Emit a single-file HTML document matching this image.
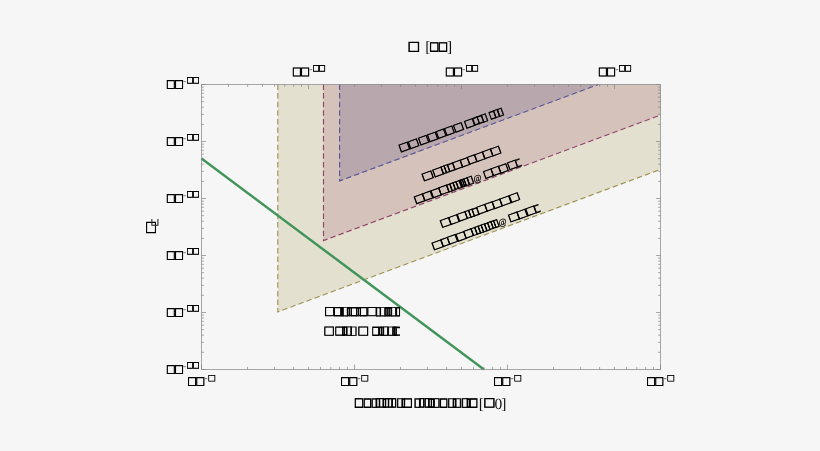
<!DOCTYPE html>
<html lang="en"><head><meta charset="utf-8"><title>Plot</title>
<style>
html,body{margin:0;padding:0;background:#f6f6f6;}
body{width:820px;height:451px;overflow:hidden;font-family:"Liberation Sans",sans-serif;}
svg{display:block;will-change:transform;}
</style></head><body>
<svg width="820" height="451" viewBox="0 0 820 451" text-rendering="geometricPrecision">
<rect width="820" height="451" fill="#f6f6f6"/>
<polygon points="277.8,84.5 660.5,84.5 660.5,169.33 277.8,311.9" fill="#e3e0d0"/>
<polygon points="323.5,84.5 660.5,84.5 660.5,115.05 323.5,240.6" fill="#d4c2bb"/>
<polygon points="339.6,84.5 598.36,84.5 339.6,180.9" fill="#b8a8ad"/>
<g fill="none" stroke-width="1.15" stroke-dasharray="5.5 3.1">
<polyline points="277.8,84.5 277.8,311.9 660.5,169.33" stroke="#9e9252"/>
<polyline points="323.5,84.5 323.5,240.6 660.5,115.05" stroke="#8f456b"/>
<polyline points="339.6,84.5 339.6,180.9 598.36,84.5" stroke="#58559a"/>
</g>
<line x1="201.5" y1="158.5" x2="484" y2="369.5" stroke="#41955a" stroke-width="2.45"/>
<path d="M201.5,84.5H660.5V369.5H201.5ZM201.50,369.5v-5M247.56,369.5v-2.6M274.50,369.5v-2.6M293.62,369.5v-2.6M308.44,369.5v-2.6M320.56,369.5v-2.6M330.80,369.5v-2.6M339.67,369.5v-2.6M347.50,369.5v-2.6M354.50,369.5v-5M400.56,369.5v-2.6M427.50,369.5v-2.6M446.62,369.5v-2.6M461.44,369.5v-2.6M473.56,369.5v-2.6M483.80,369.5v-2.6M492.67,369.5v-2.6M500.50,369.5v-2.6M507.50,369.5v-5M553.56,369.5v-2.6M580.50,369.5v-2.6M599.62,369.5v-2.6M614.44,369.5v-2.6M626.56,369.5v-2.6M636.80,369.5v-2.6M645.67,369.5v-2.6M653.50,369.5v-2.6M660.50,369.5v-5M201.56,84.5v2.4M228.50,84.5v2.4M247.62,84.5v2.4M262.44,84.5v2.4M274.56,84.5v2.4M284.80,84.5v2.4M293.67,84.5v2.4M301.50,84.5v2.4M308.50,84.5v4.5M354.56,84.5v2.4M381.50,84.5v2.4M400.62,84.5v2.4M415.44,84.5v2.4M427.56,84.5v2.4M437.80,84.5v2.4M446.67,84.5v2.4M454.50,84.5v2.4M461.50,84.5v4.5M507.56,84.5v2.4M534.50,84.5v2.4M553.62,84.5v2.4M568.44,84.5v2.4M580.56,84.5v2.4M590.80,84.5v2.4M599.67,84.5v2.4M607.50,84.5v2.4M614.50,84.5v4.5M201.5,84.50h4.5M660.5,84.50h-4.5M201.5,141.50h4.5M660.5,141.50h-4.5M201.5,124.34h2.4M660.5,124.34h-2.4M201.5,114.30h2.4M660.5,114.30h-2.4M201.5,107.18h2.4M660.5,107.18h-2.4M201.5,101.66h2.4M660.5,101.66h-2.4M201.5,97.15h2.4M660.5,97.15h-2.4M201.5,93.33h2.4M660.5,93.33h-2.4M201.5,90.02h2.4M660.5,90.02h-2.4M201.5,87.11h2.4M660.5,87.11h-2.4M201.5,198.50h4.5M660.5,198.50h-4.5M201.5,181.34h2.4M660.5,181.34h-2.4M201.5,171.30h2.4M660.5,171.30h-2.4M201.5,164.18h2.4M660.5,164.18h-2.4M201.5,158.66h2.4M660.5,158.66h-2.4M201.5,154.15h2.4M660.5,154.15h-2.4M201.5,150.33h2.4M660.5,150.33h-2.4M201.5,147.02h2.4M660.5,147.02h-2.4M201.5,144.11h2.4M660.5,144.11h-2.4M201.5,255.50h4.5M660.5,255.50h-4.5M201.5,238.34h2.4M660.5,238.34h-2.4M201.5,228.30h2.4M660.5,228.30h-2.4M201.5,221.18h2.4M660.5,221.18h-2.4M201.5,215.66h2.4M660.5,215.66h-2.4M201.5,211.15h2.4M660.5,211.15h-2.4M201.5,207.33h2.4M660.5,207.33h-2.4M201.5,204.02h2.4M660.5,204.02h-2.4M201.5,201.11h2.4M660.5,201.11h-2.4M201.5,312.50h4.5M660.5,312.50h-4.5M201.5,295.34h2.4M660.5,295.34h-2.4M201.5,285.30h2.4M660.5,285.30h-2.4M201.5,278.18h2.4M660.5,278.18h-2.4M201.5,272.66h2.4M660.5,272.66h-2.4M201.5,268.15h2.4M660.5,268.15h-2.4M201.5,264.33h2.4M660.5,264.33h-2.4M201.5,261.02h2.4M660.5,261.02h-2.4M201.5,258.11h2.4M660.5,258.11h-2.4M201.5,369.50h4.5M660.5,369.50h-4.5M201.5,352.34h2.4M660.5,352.34h-2.4M201.5,342.30h2.4M660.5,342.30h-2.4M201.5,335.18h2.4M660.5,335.18h-2.4M201.5,329.66h2.4M660.5,329.66h-2.4M201.5,325.15h2.4M660.5,325.15h-2.4M201.5,321.33h2.4M660.5,321.33h-2.4M201.5,318.02h2.4M660.5,318.02h-2.4M201.5,315.11h2.4M660.5,315.11h-2.4" fill="none" stroke="#848484" stroke-width="0.7"/>
<g font-size="20.48">
<text font-family="'Liberation Sans', sans-serif" transform="matrix(0.6099 0.0005 -0.0005 0.6776 167.08 88.65)" stroke-width="1.031" stroke="#000" fill="#000">□</text><text font-family="'Liberation Sans', sans-serif" transform="matrix(0.6099 0.0005 -0.0005 0.6776 175.18 88.65)" stroke-width="1.031" stroke="#000" fill="#000">□</text>
<text x="183.0" y="83.60" font-family="'Liberation Serif', serif" font-size="9.5" fill="#444">-</text>
<text font-family="'Liberation Sans', sans-serif" transform="matrix(0.4444 0.0005 -0.0005 0.5079 187.33 83.61)" stroke-width="1.139" stroke="#000" fill="#000">□</text><text font-family="'Liberation Sans', sans-serif" transform="matrix(0.4444 0.0005 -0.0005 0.5079 193.28 83.61)" stroke-width="1.139" stroke="#000" fill="#000">□</text>
<text font-family="'Liberation Sans', sans-serif" transform="matrix(0.6099 0.0005 -0.0005 0.6776 167.08 145.65)" stroke-width="1.031" stroke="#000" fill="#000">□</text><text font-family="'Liberation Sans', sans-serif" transform="matrix(0.6099 0.0005 -0.0005 0.6776 175.18 145.65)" stroke-width="1.031" stroke="#000" fill="#000">□</text>
<text x="183.0" y="140.60" font-family="'Liberation Serif', serif" font-size="9.5" fill="#444">-</text>
<text font-family="'Liberation Sans', sans-serif" transform="matrix(0.4444 0.0005 -0.0005 0.5079 187.33 140.61)" stroke-width="1.139" stroke="#000" fill="#000">□</text><text font-family="'Liberation Sans', sans-serif" transform="matrix(0.4444 0.0005 -0.0005 0.5079 193.28 140.61)" stroke-width="1.139" stroke="#000" fill="#000">□</text>
<text font-family="'Liberation Sans', sans-serif" transform="matrix(0.6099 0.0005 -0.0005 0.6776 167.08 202.65)" stroke-width="1.031" stroke="#000" fill="#000">□</text><text font-family="'Liberation Sans', sans-serif" transform="matrix(0.6099 0.0005 -0.0005 0.6776 175.18 202.65)" stroke-width="1.031" stroke="#000" fill="#000">□</text>
<text x="183.0" y="197.60" font-family="'Liberation Serif', serif" font-size="9.5" fill="#444">-</text>
<text font-family="'Liberation Sans', sans-serif" transform="matrix(0.4444 0.0005 -0.0005 0.5079 187.33 197.61)" stroke-width="1.139" stroke="#000" fill="#000">□</text><text font-family="'Liberation Sans', sans-serif" transform="matrix(0.4444 0.0005 -0.0005 0.5079 193.28 197.61)" stroke-width="1.139" stroke="#000" fill="#000">□</text>
<text font-family="'Liberation Sans', sans-serif" transform="matrix(0.6099 0.0005 -0.0005 0.6776 167.08 259.65)" stroke-width="1.031" stroke="#000" fill="#000">□</text><text font-family="'Liberation Sans', sans-serif" transform="matrix(0.6099 0.0005 -0.0005 0.6776 175.18 259.65)" stroke-width="1.031" stroke="#000" fill="#000">□</text>
<text x="183.0" y="254.60" font-family="'Liberation Serif', serif" font-size="9.5" fill="#444">-</text>
<text font-family="'Liberation Sans', sans-serif" transform="matrix(0.4444 0.0005 -0.0005 0.5079 187.33 254.61)" stroke-width="1.139" stroke="#000" fill="#000">□</text><text font-family="'Liberation Sans', sans-serif" transform="matrix(0.4444 0.0005 -0.0005 0.5079 193.28 254.61)" stroke-width="1.139" stroke="#000" fill="#000">□</text>
<text font-family="'Liberation Sans', sans-serif" transform="matrix(0.6099 0.0005 -0.0005 0.6776 167.08 316.65)" stroke-width="1.031" stroke="#000" fill="#000">□</text><text font-family="'Liberation Sans', sans-serif" transform="matrix(0.6099 0.0005 -0.0005 0.6776 175.18 316.65)" stroke-width="1.031" stroke="#000" fill="#000">□</text>
<text x="183.0" y="311.60" font-family="'Liberation Serif', serif" font-size="9.5" fill="#444">-</text>
<text font-family="'Liberation Sans', sans-serif" transform="matrix(0.4444 0.0005 -0.0005 0.5079 187.33 311.61)" stroke-width="1.139" stroke="#000" fill="#000">□</text><text font-family="'Liberation Sans', sans-serif" transform="matrix(0.4444 0.0005 -0.0005 0.5079 193.28 311.61)" stroke-width="1.139" stroke="#000" fill="#000">□</text>
<text font-family="'Liberation Sans', sans-serif" transform="matrix(0.6099 0.0005 -0.0005 0.6776 167.08 373.65)" stroke-width="1.031" stroke="#000" fill="#000">□</text><text font-family="'Liberation Sans', sans-serif" transform="matrix(0.6099 0.0005 -0.0005 0.6776 175.18 373.65)" stroke-width="1.031" stroke="#000" fill="#000">□</text>
<text x="183.0" y="368.60" font-family="'Liberation Serif', serif" font-size="9.5" fill="#444">-</text>
<text font-family="'Liberation Sans', sans-serif" transform="matrix(0.4444 0.0005 -0.0005 0.5079 187.33 368.61)" stroke-width="1.139" stroke="#000" fill="#000">□</text><text font-family="'Liberation Sans', sans-serif" transform="matrix(0.4444 0.0005 -0.0005 0.5079 193.28 368.61)" stroke-width="1.139" stroke="#000" fill="#000">□</text>
<text font-family="'Liberation Sans', sans-serif" transform="matrix(0.6190 0.0005 -0.0005 0.6945 293.07 76.35)" stroke-width="0.997" stroke="#000" fill="#000">□</text><text font-family="'Liberation Sans', sans-serif" transform="matrix(0.6190 0.0005 -0.0005 0.6945 301.27 76.35)" stroke-width="0.997" stroke="#000" fill="#000">□</text>
<text x="309.30" y="71.7" font-family="'Liberation Serif', serif" font-size="9.5" fill="#444">-</text>
<text font-family="'Liberation Sans', sans-serif" transform="matrix(0.4566 0.0005 -0.0005 0.5090 313.23 71.52)" stroke-width="1.110" stroke="#000" fill="#000">□</text><text font-family="'Liberation Sans', sans-serif" transform="matrix(0.4566 0.0005 -0.0005 0.5090 319.33 71.52)" stroke-width="1.110" stroke="#000" fill="#000">□</text>
<text font-family="'Liberation Sans', sans-serif" transform="matrix(0.6190 0.0005 -0.0005 0.6945 446.07 76.35)" stroke-width="0.997" stroke="#000" fill="#000">□</text><text font-family="'Liberation Sans', sans-serif" transform="matrix(0.6190 0.0005 -0.0005 0.6945 454.27 76.35)" stroke-width="0.997" stroke="#000" fill="#000">□</text>
<text x="462.30" y="71.7" font-family="'Liberation Serif', serif" font-size="9.5" fill="#444">-</text>
<text font-family="'Liberation Sans', sans-serif" transform="matrix(0.4566 0.0005 -0.0005 0.5090 466.23 71.52)" stroke-width="1.110" stroke="#000" fill="#000">□</text><text font-family="'Liberation Sans', sans-serif" transform="matrix(0.4566 0.0005 -0.0005 0.5090 472.33 71.52)" stroke-width="1.110" stroke="#000" fill="#000">□</text>
<text font-family="'Liberation Sans', sans-serif" transform="matrix(0.6190 0.0005 -0.0005 0.6945 599.07 76.35)" stroke-width="0.997" stroke="#000" fill="#000">□</text><text font-family="'Liberation Sans', sans-serif" transform="matrix(0.6190 0.0005 -0.0005 0.6945 607.27 76.35)" stroke-width="0.997" stroke="#000" fill="#000">□</text>
<text x="615.30" y="71.7" font-family="'Liberation Serif', serif" font-size="9.5" fill="#444">-</text>
<text font-family="'Liberation Sans', sans-serif" transform="matrix(0.4566 0.0005 -0.0005 0.5090 619.23 71.52)" stroke-width="1.110" stroke="#000" fill="#000">□</text><text font-family="'Liberation Sans', sans-serif" transform="matrix(0.4566 0.0005 -0.0005 0.5090 625.33 71.52)" stroke-width="1.110" stroke="#000" fill="#000">□</text>
<text font-family="'Liberation Sans', sans-serif" transform="matrix(0.6185 0.0005 -0.0005 0.6864 188.27 385.85)" stroke-width="1.007" stroke="#000" fill="#000">□</text><text font-family="'Liberation Sans', sans-serif" transform="matrix(0.6185 0.0005 -0.0005 0.6864 196.47 385.85)" stroke-width="1.007" stroke="#000" fill="#000">□</text>
<text x="204.50" y="380.8" font-family="'Liberation Serif', serif" font-size="9.5" fill="#333">-</text>
<text font-family="'Liberation Sans', sans-serif" transform="matrix(0.5332 0.0005 -0.0005 0.5023 208.45 381.23)" stroke-width="0.690" stroke="#000" fill="#000">□</text>
<text font-family="'Liberation Sans', sans-serif" transform="matrix(0.6185 0.0005 -0.0005 0.6864 341.27 385.85)" stroke-width="1.007" stroke="#000" fill="#000">□</text><text font-family="'Liberation Sans', sans-serif" transform="matrix(0.6185 0.0005 -0.0005 0.6864 349.47 385.85)" stroke-width="1.007" stroke="#000" fill="#000">□</text>
<text x="357.50" y="380.8" font-family="'Liberation Serif', serif" font-size="9.5" fill="#333">-</text>
<text font-family="'Liberation Sans', sans-serif" transform="matrix(0.5332 0.0005 -0.0005 0.5023 361.45 381.23)" stroke-width="0.690" stroke="#000" fill="#000">□</text>
<text font-family="'Liberation Sans', sans-serif" transform="matrix(0.6185 0.0005 -0.0005 0.6864 494.27 385.85)" stroke-width="1.007" stroke="#000" fill="#000">□</text><text font-family="'Liberation Sans', sans-serif" transform="matrix(0.6185 0.0005 -0.0005 0.6864 502.47 385.85)" stroke-width="1.007" stroke="#000" fill="#000">□</text>
<text x="510.50" y="380.8" font-family="'Liberation Serif', serif" font-size="9.5" fill="#333">-</text>
<text font-family="'Liberation Sans', sans-serif" transform="matrix(0.5332 0.0005 -0.0005 0.5023 514.45 381.23)" stroke-width="0.690" stroke="#000" fill="#000">□</text>
<text font-family="'Liberation Sans', sans-serif" transform="matrix(0.6185 0.0005 -0.0005 0.6864 647.27 385.85)" stroke-width="1.007" stroke="#000" fill="#000">□</text><text font-family="'Liberation Sans', sans-serif" transform="matrix(0.6185 0.0005 -0.0005 0.6864 655.47 385.85)" stroke-width="1.007" stroke="#000" fill="#000">□</text>
<text x="663.50" y="380.8" font-family="'Liberation Serif', serif" font-size="9.5" fill="#333">-</text>
<text font-family="'Liberation Sans', sans-serif" transform="matrix(0.5332 0.0005 -0.0005 0.5023 667.45 381.23)" stroke-width="0.690" stroke="#000" fill="#000">□</text>
<text font-family="'Liberation Sans', sans-serif" transform="matrix(0.8159 0.0005 -0.0005 0.7854 408.70 51.66)" stroke-width="0.864" stroke="#000" fill="#000">□</text>
<text font-family="'Liberation Sans', sans-serif" transform="matrix(0.6423 0.0005 -0.0005 0.7319 430.33 51.38)" stroke-width="1.140" stroke="#000" fill="#000">□</text><text font-family="'Liberation Sans', sans-serif" transform="matrix(0.6423 0.0005 -0.0005 0.7319 438.93 51.38)" stroke-width="1.140" stroke="#000" fill="#000">□</text>
<text font-family="'Liberation Sans', sans-serif" transform="matrix(0.7727 0.0005 -0.0005 0.8886 146.22 232.99)" stroke-width="0.692" stroke="#000" fill="#000">□</text>
<text font-family="'Liberation Sans', sans-serif" transform="matrix(0.6504 0.0005 -0.0005 0.7326 355.03 407.49)" stroke-width="1.127" stroke="#000" fill="#000">□</text><text font-family="'Liberation Sans', sans-serif" transform="matrix(0.5529 0.0005 -0.0005 0.7224 364.03 407.42)" stroke-width="1.315" stroke="#000" fill="#000">□</text><text font-family="'DejaVu Sans', sans-serif" transform="matrix(0.6909 0.0005 -0.0005 0.5945 370.41 406.16)" stroke-width="0.845" stroke="#000" fill="#000">▯</text><text font-family="'DejaVu Sans', sans-serif" transform="matrix(0.4936 0.0005 -0.0005 0.5764 375.12 406.07)" stroke-width="1.364" stroke="#000" fill="#000">▯</text><text font-family="'DejaVu Sans', sans-serif" transform="matrix(0.5640 0.0005 -0.0005 0.5841 378.17 406.11)" stroke-width="1.138" stroke="#000" fill="#000">▯</text><text font-family="'DejaVu Sans', sans-serif" transform="matrix(0.3534 0.0005 -0.0005 0.5533 382.41 405.94)" stroke-width="2.071" stroke="#000" fill="#000">▯</text><text font-family="'DejaVu Sans', sans-serif" transform="matrix(0.4796 0.0005 -0.0005 0.5746 384.15 406.06)" stroke-width="1.416" stroke="#000" fill="#000">▯</text><text font-family="'DejaVu Sans', sans-serif" transform="matrix(0.5358 0.0005 -0.0005 0.5812 387.23 406.09)" stroke-width="1.221" stroke="#000" fill="#000">▯</text><text font-family="'DejaVu Sans', sans-serif" transform="matrix(0.5218 0.0005 -0.0005 0.5797 390.96 406.08)" stroke-width="1.266" stroke="#000" fill="#000">▯</text><text font-family="'DejaVu Sans', sans-serif" transform="matrix(0.7615 0.0005 -0.0005 0.5989 395.66 406.19)" stroke-width="0.723" stroke="#000" fill="#000">▯</text><text font-family="'DejaVu Sans', sans-serif" transform="matrix(0.3674 0.0005 -0.0005 0.5563 401.28 405.96)" stroke-width="1.977" stroke="#000" fill="#000">▯</text><text font-family="'Liberation Sans', sans-serif" transform="matrix(0.6016 0.0005 -0.0005 0.7279 404.33 407.46)" stroke-width="1.213" stroke="#000" fill="#000">□</text><text font-family="'DejaVu Sans', sans-serif" transform="matrix(0.6909 0.0005 -0.0005 0.5945 413.61 406.16)" stroke-width="0.845" stroke="#000" fill="#000">▯</text><text font-family="'DejaVu Sans', sans-serif" transform="matrix(0.5640 0.0005 -0.0005 0.5841 418.77 406.11)" stroke-width="1.138" stroke="#000" fill="#000">▯</text><text font-family="'DejaVu Sans', sans-serif" transform="matrix(0.5640 0.0005 -0.0005 0.5841 423.67 406.11)" stroke-width="1.138" stroke="#000" fill="#000">▯</text><text font-family="'DejaVu Sans', sans-serif" transform="matrix(0.3954 0.0005 -0.0005 0.5617 428.12 405.99)" stroke-width="1.808" stroke="#000" fill="#000">▯</text><text font-family="'DejaVu Sans', sans-serif" transform="matrix(0.3534 0.0005 -0.0005 0.5533 430.51 405.94)" stroke-width="2.071" stroke="#000" fill="#000">▯</text><text font-family="'DejaVu Sans', sans-serif" transform="matrix(0.7333 0.0005 -0.0005 0.5972 432.52 406.18)" stroke-width="0.769" stroke="#000" fill="#000">▯</text><text font-family="'Liberation Sans', sans-serif" transform="matrix(0.5529 0.0005 -0.0005 0.7224 440.33 407.42)" stroke-width="1.315" stroke="#000" fill="#000">□</text><text font-family="'DejaVu Sans', sans-serif" transform="matrix(0.7615 0.0005 -0.0005 0.5989 446.66 406.19)" stroke-width="0.723" stroke="#000" fill="#000">▯</text><text font-family="'DejaVu Sans', sans-serif" transform="matrix(0.3674 0.0005 -0.0005 0.5563 452.48 405.96)" stroke-width="1.977" stroke="#000" fill="#000">▯</text><text font-family="'DejaVu Sans', sans-serif" transform="matrix(0.7615 0.0005 -0.0005 0.5989 453.86 406.19)" stroke-width="0.723" stroke="#000" fill="#000">▯</text><text font-family="'DejaVu Sans', sans-serif" transform="matrix(0.7898 0.0005 -0.0005 0.6005 460.50 406.19)" stroke-width="0.680" stroke="#000" fill="#000">▯</text><text font-family="'DejaVu Sans', sans-serif" transform="matrix(0.3255 0.0005 -0.0005 0.5468 466.47 405.91)" stroke-width="2.281" stroke="#000" fill="#000">▯</text><text font-family="'Liberation Sans', sans-serif" transform="matrix(0.5773 0.0005 -0.0005 0.7253 469.93 407.44)" stroke-width="1.262" stroke="#000" fill="#000">□</text>
<text font-family="'Liberation Sans', sans-serif" transform="matrix(0.7885 0.0005 -0.0005 0.7430 484.52 407.55)" stroke-width="0.939" stroke="#000" fill="#000">□</text>
<text font-family="'Liberation Sans', sans-serif" transform="matrix(0.7098 0.0005 -0.0005 0.7175 325.31 316.09)" stroke-width="0.851" stroke="#000" fill="#000">□</text><text font-family="'Liberation Sans', sans-serif" transform="matrix(0.5464 0.0005 -0.0005 0.7036 334.22 316.01)" stroke-width="1.109" stroke="#000" fill="#000">□</text><text font-family="'DejaVu Sans', sans-serif" transform="matrix(0.3444 0.0005 -0.0005 0.6010 340.21 314.90)" fill="#000">▮</text><text font-family="'DejaVu Sans', sans-serif" transform="matrix(0.6974 0.0005 -0.0005 0.5780 341.27 314.77)" stroke-width="0.623" stroke="#000" fill="#000">▯</text><text font-family="'DejaVu Sans', sans-serif" transform="matrix(0.3145 0.0005 -0.0005 0.5332 346.68 314.54)" stroke-width="1.990" stroke="#000" fill="#000">▯</text><text font-family="'DejaVu Sans', sans-serif" transform="matrix(0.3426 0.0005 -0.0005 0.5393 348.32 314.57)" stroke-width="1.789" stroke="#000" fill="#000">▯</text><text font-family="'Liberation Sans', sans-serif" transform="matrix(0.4892 0.0005 -0.0005 0.6968 351.02 315.97)" stroke-width="1.241" stroke="#000" fill="#000">□</text><text font-family="'DejaVu Sans', sans-serif" transform="matrix(0.3145 0.0005 -0.0005 0.5332 355.98 314.54)" stroke-width="1.990" stroke="#000" fill="#000">▯</text><text font-family="'DejaVu Sans', sans-serif" transform="matrix(0.3145 0.0005 -0.0005 0.5332 357.68 314.54)" stroke-width="1.990" stroke="#000" fill="#000">▯</text><text font-family="'Liberation Sans', sans-serif" transform="matrix(0.5546 0.0005 -0.0005 0.7045 360.32 316.02)" stroke-width="1.093" stroke="#000" fill="#000">□</text><text font-family="'Liberation Sans', sans-serif" transform="matrix(0.7262 0.0005 -0.0005 0.7185 367.51 316.10)" stroke-width="0.832" stroke="#000" fill="#000">□</text><text font-family="'DejaVu Sans', sans-serif" transform="matrix(0.5694 0.0005 -0.0005 0.5690 375.34 314.73)" stroke-width="0.880" stroke="#000" fill="#000">▯</text><text font-family="'DejaVu Sans', sans-serif" transform="matrix(0.6974 0.0005 -0.0005 0.5780 378.87 314.77)" stroke-width="0.623" stroke="#000" fill="#000">▯</text><text font-family="'DejaVu Sans', sans-serif" transform="matrix(0.2863 0.0005 -0.0005 0.5261 384.44 314.50)" stroke-width="2.229" stroke="#000" fill="#000">▯</text><text font-family="'DejaVu Sans', sans-serif" transform="matrix(0.2863 0.0005 -0.0005 0.5261 386.44 314.50)" stroke-width="2.229" stroke="#000" fill="#000">▯</text><text font-family="'DejaVu Sans', sans-serif" transform="matrix(0.2863 0.0005 -0.0005 0.5261 388.44 314.50)" stroke-width="2.229" stroke="#000" fill="#000">▯</text><text font-family="'DejaVu Sans', sans-serif" transform="matrix(0.6405 0.0005 -0.0005 0.5744 389.89 314.76)" stroke-width="0.725" stroke="#000" fill="#000">▯</text><text font-family="'DejaVu Sans', sans-serif" transform="matrix(0.4558 0.0005 -0.0005 0.5573 395.38 314.67)" stroke-width="1.226" stroke="#000" fill="#000">▯</text>
<text font-family="'Liberation Sans', sans-serif" transform="matrix(0.7425 0.0005 -0.0005 0.7196 324.51 335.51)" stroke-width="0.813" stroke="#000" fill="#000">□</text><text font-family="'Liberation Sans', sans-serif" transform="matrix(0.6200 0.0005 -0.0005 0.7107 335.42 335.45)" stroke-width="0.977" stroke="#000" fill="#000">□</text><text font-family="'DejaVu Sans', sans-serif" transform="matrix(0.3004 0.0005 -0.0005 0.5297 342.11 333.92)" stroke-width="2.104" stroke="#000" fill="#000">▯</text><text font-family="'DejaVu Sans', sans-serif" transform="matrix(0.3709 0.0005 -0.0005 0.5447 343.36 334.00)" stroke-width="1.617" stroke="#000" fill="#000">▯</text><text font-family="'DejaVu Sans', sans-serif" transform="matrix(0.6690 0.0005 -0.0005 0.5763 345.13 334.17)" stroke-width="0.672" stroke="#000" fill="#000">▯</text><text font-family="'DejaVu Sans', sans-serif" transform="matrix(0.7402 0.0005 -0.0005 0.5804 349.58 334.19)" stroke-width="0.556" stroke="#000" fill="#000">▯</text><text font-family="'Liberation Sans', sans-serif" transform="matrix(0.7670 0.0005 -0.0005 0.7210 358.61 335.52)" stroke-width="0.787" stroke="#000" fill="#000">□</text><text font-family="'Liberation Sans', sans-serif" transform="matrix(0.5137 0.0005 -0.0005 0.6999 372.62 335.39)" stroke-width="1.181" stroke="#000" fill="#000">□</text><text font-family="'DejaVu Sans', sans-serif" transform="matrix(0.3145 0.0005 -0.0005 0.5332 378.78 333.94)" stroke-width="1.990" stroke="#000" fill="#000">▯</text><text font-family="'DejaVu Sans', sans-serif" transform="matrix(0.2863 0.0005 -0.0005 0.5261 380.54 333.90)" stroke-width="2.229" stroke="#000" fill="#000">▯</text><text font-family="'DejaVu Sans', sans-serif" transform="matrix(0.6405 0.0005 -0.0005 0.5744 381.89 334.16)" stroke-width="0.725" stroke="#000" fill="#000">▯</text><text font-family="'DejaVu Sans', sans-serif" transform="matrix(0.6974 0.0005 -0.0005 0.5780 386.87 334.17)" stroke-width="0.623" stroke="#000" fill="#000">▯</text><text font-family="'DejaVu Sans', sans-serif" transform="matrix(0.3145 0.0005 -0.0005 0.5332 392.28 333.94)" stroke-width="1.990" stroke="#000" fill="#000">▯</text><text font-family="'DejaVu Sans', sans-serif" transform="matrix(0.2863 0.0005 -0.0005 0.5261 393.84 333.90)" stroke-width="2.229" stroke="#000" fill="#000">▯</text>
<text font-family="'DejaVu Sans', sans-serif" transform="matrix(0.3101 0.0005 -0.0005 0.7814 395.29 335.64)" stroke="#000" stroke-width="0.4">⊏</text>
</g>
<g transform="translate(401.07 152.75) rotate(-20.0)" font-size="20.48"><text font-family="'Liberation Sans', sans-serif" transform="matrix(0.7519 0.0005 -0.0005 0.6304 0.30 -0.29)" stroke-width="0.917" stroke="#000" fill="#000">□</text><text font-family="'Liberation Sans', sans-serif" transform="matrix(0.7519 0.0005 -0.0005 0.6304 10.20 -0.29)" stroke-width="0.917" stroke="#000" fill="#000">□</text><text font-family="'Liberation Sans', sans-serif" transform="matrix(0.7114 0.0005 -0.0005 0.6281 21.10 -0.30)" stroke-width="0.964" stroke="#000" fill="#000">□</text><text font-family="'Liberation Sans', sans-serif" transform="matrix(0.7114 0.0005 -0.0005 0.6281 30.50 -0.30)" stroke-width="0.964" stroke="#000" fill="#000">□</text><text font-family="'Liberation Sans', sans-serif" transform="matrix(0.6709 0.0005 -0.0005 0.6257 39.90 -0.32)" stroke-width="1.016" stroke="#000" fill="#000">□</text><text font-family="'Liberation Sans', sans-serif" transform="matrix(0.6790 0.0005 -0.0005 0.6262 48.80 -0.31)" stroke-width="1.005" stroke="#000" fill="#000">□</text><text font-family="'Liberation Sans', sans-serif" transform="matrix(0.7033 0.0005 -0.0005 0.6277 58.30 -0.31)" stroke-width="0.974" stroke="#000" fill="#000">□</text><text font-family="'Liberation Sans', sans-serif" transform="matrix(0.7114 0.0005 -0.0005 0.6281 70.10 -0.30)" stroke-width="0.964" stroke="#000" fill="#000">□</text><text font-family="'Liberation Sans', sans-serif" transform="matrix(0.4076 0.0005 -0.0005 0.5988 78.93 -0.48)" stroke-width="1.611" stroke="#000" fill="#000">□</text><text font-family="'Liberation Sans', sans-serif" transform="matrix(0.4076 0.0005 -0.0005 0.5988 83.43 -0.48)" stroke-width="1.611" stroke="#000" fill="#000">□</text><text font-family="'DejaVu Sans', sans-serif" transform="matrix(0.6390 0.0005 -0.0005 0.5042 86.70 -1.47)" stroke-width="0.822" stroke="#000" fill="#000">▯</text><text font-family="'Liberation Sans', sans-serif" transform="matrix(0.4319 0.0005 -0.0005 0.6025 96.13 -0.46)" stroke-width="1.526" stroke="#000" fill="#000">□</text><text font-family="'DejaVu Sans', sans-serif" transform="matrix(0.6109 0.0005 -0.0005 0.5024 99.76 -1.48)" stroke-width="0.880" stroke="#000" fill="#000">▯</text><text font-family="'DejaVu Sans', sans-serif" transform="matrix(0.6250 0.0005 -0.0005 0.5033 103.73 -1.47)" stroke-width="0.850" stroke="#000" fill="#000">▯</text></g>
<g transform="translate(424.57 181.3) rotate(-20.0)" font-size="20.48"><text font-family="'Liberation Sans', sans-serif" transform="matrix(0.8126 0.0005 -0.0005 0.6333 -0.28 -0.27)" stroke-width="0.855" stroke="#000" fill="#000">□</text><text font-family="'Liberation Sans', sans-serif" transform="matrix(0.7559 0.0005 -0.0005 0.6306 11.32 -0.29)" stroke-width="0.913" stroke="#000" fill="#000">□</text><text font-family="'DejaVu Sans', sans-serif" transform="matrix(0.4986 0.0005 -0.0005 0.4936 19.19 -1.52)" stroke-width="1.174" stroke="#000" fill="#000">▯</text><text font-family="'DejaVu Sans', sans-serif" transform="matrix(0.5407 0.0005 -0.0005 0.4973 22.30 -1.50)" stroke-width="1.050" stroke="#000" fill="#000">▯</text><text font-family="'Liberation Sans', sans-serif" transform="matrix(0.4886 0.0005 -0.0005 0.6099 26.83 -0.41)" stroke-width="1.360" stroke="#000" fill="#000">□</text><text font-family="'Liberation Sans', sans-serif" transform="matrix(0.6992 0.0005 -0.0005 0.6274 32.33 -0.31)" stroke-width="0.979" stroke="#000" fill="#000">□</text><text font-family="'Liberation Sans', sans-serif" transform="matrix(0.6506 0.0005 -0.0005 0.6243 40.43 -0.33)" stroke-width="1.045" stroke="#000" fill="#000">□</text><text font-family="'Liberation Sans', sans-serif" transform="matrix(0.6749 0.0005 -0.0005 0.6259 47.93 -0.32)" stroke-width="1.011" stroke="#000" fill="#000">□</text><text font-family="'Liberation Sans', sans-serif" transform="matrix(0.7316 0.0005 -0.0005 0.6293 55.72 -0.30)" stroke-width="0.940" stroke="#000" fill="#000">□</text><text font-family="'Liberation Sans', sans-serif" transform="matrix(0.7316 0.0005 -0.0005 0.6293 64.22 -0.30)" stroke-width="0.940" stroke="#000" fill="#000">□</text><text font-family="'Liberation Sans', sans-serif" transform="matrix(0.7316 0.0005 -0.0005 0.6293 72.72 -0.30)" stroke-width="0.940" stroke="#000" fill="#000">□</text></g>
<g transform="translate(416.9 204.2) rotate(-20.0)" font-size="20.48"><text font-family="'Liberation Sans', sans-serif" transform="matrix(0.7478 0.0005 -0.0005 0.6302 -0.28 -0.29)" stroke-width="0.921" stroke="#000" fill="#000">□</text><text font-family="'Liberation Sans', sans-serif" transform="matrix(0.7154 0.0005 -0.0005 0.6284 8.43 -0.30)" stroke-width="0.959" stroke="#000" fill="#000">□</text><text font-family="'Liberation Sans', sans-serif" transform="matrix(0.7154 0.0005 -0.0005 0.6284 17.53 -0.30)" stroke-width="0.959" stroke="#000" fill="#000">□</text><text font-family="'Liberation Sans', sans-serif" transform="matrix(0.7235 0.0005 -0.0005 0.6288 25.82 -0.30)" stroke-width="0.949" stroke="#000" fill="#000">□</text><text font-family="'DejaVu Sans', sans-serif" transform="matrix(0.5267 0.0005 -0.0005 0.4961 33.23 -1.51)" stroke-width="1.089" stroke="#000" fill="#000">▯</text><text font-family="'DejaVu Sans', sans-serif" transform="matrix(0.5267 0.0005 -0.0005 0.4961 36.63 -1.51)" stroke-width="1.089" stroke="#000" fill="#000">▯</text><text font-family="'DejaVu Sans', sans-serif" transform="matrix(0.4846 0.0005 -0.0005 0.4923 40.12 -1.53)" stroke-width="1.220" stroke="#000" fill="#000">▯</text><text font-family="'DejaVu Sans', sans-serif" transform="matrix(0.5267 0.0005 -0.0005 0.4961 43.13 -1.51)" stroke-width="1.089" stroke="#000" fill="#000">▯</text><text font-family="'DejaVu Sans', sans-serif" transform="matrix(0.3245 0.0005 -0.0005 0.5307 46.62 -1.33)" fill="#000">▮</text><text font-family="'DejaVu Sans', sans-serif" transform="matrix(0.3029 0.0005 -0.0005 0.4656 48.29 -1.67)" stroke-width="2.188" stroke="#000" fill="#000">▯</text><text font-family="'DejaVu Sans', sans-serif" transform="matrix(0.3029 0.0005 -0.0005 0.4656 50.09 -1.67)" stroke-width="2.188" stroke="#000" fill="#000">▯</text><text font-family="'DejaVu Sans', sans-serif" transform="matrix(0.5267 0.0005 -0.0005 0.4961 51.43 -1.51)" stroke-width="1.089" stroke="#000" fill="#000">▯</text><text font-family="'DejaVu Sans', sans-serif" transform="matrix(0.6672 0.0005 -0.0005 0.5058 54.54 -1.46)" stroke-width="0.769" stroke="#000" fill="#000">▯</text><text font-family="'Liberation Sans', sans-serif" transform="matrix(0.6911 0.0005 -0.0005 0.6269 73.33 -0.31)" stroke-width="0.989" stroke="#000" fill="#000">□</text><text font-family="'Liberation Sans', sans-serif" transform="matrix(0.6830 0.0005 -0.0005 0.6264 81.33 -0.31)" stroke-width="1.000" stroke="#000" fill="#000">□</text><text font-family="'Liberation Sans', sans-serif" transform="matrix(0.6749 0.0005 -0.0005 0.6259 89.23 -0.32)" stroke-width="1.011" stroke="#000" fill="#000">□</text><text font-family="'Liberation Sans', sans-serif" transform="matrix(0.6992 0.0005 -0.0005 0.6274 98.83 -0.31)" stroke-width="0.979" stroke="#000" fill="#000">□</text><text x="61.6" y="-0.8" font-family="'Liberation Serif', serif" font-size="9" fill="#000" stroke="#000" stroke-width="0.25">@</text><text font-family="'DejaVu Sans', sans-serif" transform="matrix(0.3555 0.0005 -0.0005 0.6899 106.50 -0.14)" stroke="#000" stroke-width="0.4">⊏</text></g>
<g transform="translate(442.9 228.0) rotate(-20.0)" font-size="20.48"><text font-family="'Liberation Sans', sans-serif" transform="matrix(0.7640 0.0005 -0.0005 0.6310 -0.28 -0.29)" stroke-width="0.904" stroke="#000" fill="#000">□</text><text font-family="'Liberation Sans', sans-serif" transform="matrix(0.7316 0.0005 -0.0005 0.6293 8.62 -0.30)" stroke-width="0.940" stroke="#000" fill="#000">□</text><text font-family="'Liberation Sans', sans-serif" transform="matrix(0.7073 0.0005 -0.0005 0.6279 17.83 -0.30)" stroke-width="0.969" stroke="#000" fill="#000">□</text><text font-family="'DejaVu Sans', sans-serif" transform="matrix(0.5828 0.0005 -0.0005 0.5005 24.92 -1.49)" stroke-width="0.943" stroke="#000" fill="#000">▯</text><text font-family="'DejaVu Sans', sans-serif" transform="matrix(0.5547 0.0005 -0.0005 0.4984 28.77 -1.50)" stroke-width="1.013" stroke="#000" fill="#000">▯</text><text font-family="'Liberation Sans', sans-serif" transform="matrix(0.4400 0.0005 -0.0005 0.6037 33.43 -0.45)" stroke-width="1.499" stroke="#000" fill="#000">□</text><text font-family="'Liberation Sans', sans-serif" transform="matrix(0.7559 0.0005 -0.0005 0.6306 38.32 -0.29)" stroke-width="0.913" stroke="#000" fill="#000">□</text><text font-family="'Liberation Sans', sans-serif" transform="matrix(0.6749 0.0005 -0.0005 0.6259 47.13 -0.32)" stroke-width="1.011" stroke="#000" fill="#000">□</text><text font-family="'Liberation Sans', sans-serif" transform="matrix(0.6911 0.0005 -0.0005 0.6269 54.93 -0.31)" stroke-width="0.989" stroke="#000" fill="#000">□</text><text font-family="'Liberation Sans', sans-serif" transform="matrix(0.8207 0.0005 -0.0005 0.6337 62.92 -0.27)" stroke-width="0.848" stroke="#000" fill="#000">□</text><text font-family="'Liberation Sans', sans-serif" transform="matrix(0.7316 0.0005 -0.0005 0.6293 73.12 -0.30)" stroke-width="0.940" stroke="#000" fill="#000">□</text></g>
<g transform="translate(434.7 250.3) rotate(-20.0)" font-size="20.48"><text font-family="'Liberation Sans', sans-serif" transform="matrix(0.8045 0.0005 -0.0005 0.6330 -0.28 -0.27)" stroke-width="0.863" stroke="#000" fill="#000">□</text><text font-family="'Liberation Sans', sans-serif" transform="matrix(0.5858 0.0005 -0.0005 0.6194 9.13 -0.36)" stroke-width="1.150" stroke="#000" fill="#000">□</text><text font-family="'Liberation Sans', sans-serif" transform="matrix(0.7235 0.0005 -0.0005 0.6288 15.82 -0.30)" stroke-width="0.949" stroke="#000" fill="#000">□</text><text font-family="'Liberation Sans', sans-serif" transform="matrix(0.7073 0.0005 -0.0005 0.6279 25.23 -0.30)" stroke-width="0.969" stroke="#000" fill="#000">□</text><text font-family="'Liberation Sans', sans-serif" transform="matrix(0.6749 0.0005 -0.0005 0.6259 33.43 -0.32)" stroke-width="1.011" stroke="#000" fill="#000">□</text><text font-family="'DejaVu Sans', sans-serif" transform="matrix(0.6109 0.0005 -0.0005 0.5024 40.06 -1.48)" stroke-width="0.880" stroke="#000" fill="#000">▯</text><text font-family="'DejaVu Sans', sans-serif" transform="matrix(0.5407 0.0005 -0.0005 0.4973 44.20 -1.50)" stroke-width="1.050" stroke="#000" fill="#000">▯</text><text font-family="'DejaVu Sans', sans-serif" transform="matrix(0.5126 0.0005 -0.0005 0.4949 47.76 -1.52)" stroke-width="1.131" stroke="#000" fill="#000">▯</text><text font-family="'DejaVu Sans', sans-serif" transform="matrix(0.5547 0.0005 -0.0005 0.4984 50.97 -1.50)" stroke-width="1.013" stroke="#000" fill="#000">▯</text><text font-family="'DejaVu Sans', sans-serif" transform="matrix(0.5126 0.0005 -0.0005 0.4949 54.66 -1.52)" stroke-width="1.131" stroke="#000" fill="#000">▯</text><text font-family="'DejaVu Sans', sans-serif" transform="matrix(0.5267 0.0005 -0.0005 0.4961 57.93 -1.51)" stroke-width="1.089" stroke="#000" fill="#000">▯</text><text font-family="'DejaVu Sans', sans-serif" transform="matrix(0.4425 0.0005 -0.0005 0.4878 61.51 -1.55)" stroke-width="1.376" stroke="#000" fill="#000">▯</text><text font-family="'DejaVu Sans', sans-serif" transform="matrix(0.5126 0.0005 -0.0005 0.4949 64.16 -1.52)" stroke-width="1.131" stroke="#000" fill="#000">▯</text><text font-family="'Liberation Sans', sans-serif" transform="matrix(0.7721 0.0005 -0.0005 0.6314 81.12 -0.28)" stroke-width="0.895" stroke="#000" fill="#000">□</text><text font-family="'Liberation Sans', sans-serif" transform="matrix(0.7316 0.0005 -0.0005 0.6293 90.12 -0.30)" stroke-width="0.940" stroke="#000" fill="#000">□</text><text font-family="'Liberation Sans', sans-serif" transform="matrix(0.7316 0.0005 -0.0005 0.6293 99.42 -0.30)" stroke-width="0.940" stroke="#000" fill="#000">□</text><text x="69.2" y="-0.5" font-family="'Liberation Serif', serif" font-size="9" fill="#000" stroke="#000" stroke-width="0.25">@</text><text font-family="'DejaVu Sans', sans-serif" transform="matrix(0.3631 0.0005 -0.0005 0.6899 107.48 -0.14)" stroke="#000" stroke-width="0.4">⊏</text></g>
<g font-family="'Liberation Serif', serif" font-size="15.5" fill="#111">
<text x="425.2" y="51.6">[</text><text x="447.0" y="51.6">]</text>
<text x="478.8" y="408.8">[</text><text x="494.6" y="408.8">0</text><text x="501.2" y="408.8">]</text>
</g>
<text transform="matrix(0.6100 0.0005 -0.0005 0.5304 149.88 225.80)" font-family="'DejaVu Sans', sans-serif" font-size="20.48" fill="#222">⊔</text>
</svg>
</body></html>
